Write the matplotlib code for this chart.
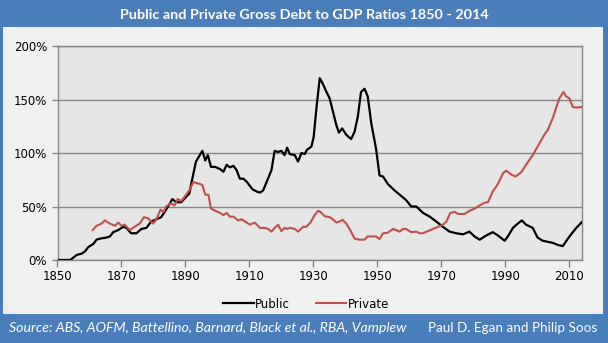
import matplotlib
matplotlib.use("Agg")
import matplotlib.pyplot as plt
from matplotlib.patches import Rectangle
from matplotlib.ticker import FuncFormatter, MultipleLocator

# Gross debt as % of GDP
pub_years = [1850, 1854, 1856, 1857.6, 1858.6, 1859.6, 1861.2, 1862.2, 1863.3, 1865.3,
             1866.4, 1867.4, 1869, 1870.5, 1871.6, 1873, 1874.7, 1876.2, 1877.8, 1879.3,
             1880.9, 1882.4, 1883.5, 1885, 1885.9, 1887.1, 1888.7, 1890.2, 1891.2, 1892.3,
             1893.3, 1894.2, 1895.3, 1896.2, 1897, 1898, 1899.3, 1900.8, 1901.9, 1902.9,
             1903.9, 1905, 1906, 1907, 1908.1, 1909.2, 1911, 1912.3, 1913.3, 1914.3,
             1915.4, 1916.9, 1917.9, 1919, 1920, 1921, 1921.8, 1922.6, 1924.2, 1925.2,
             1926.3, 1927.3, 1928, 1929.4, 1930.1, 1931, 1932, 1933, 1934.1, 1935.1,
             1936.1, 1937.2, 1938, 1939, 1940.3, 1941.8, 1942.9, 1943.9, 1944.9, 1946,
             1947, 1948.1, 1949.6, 1950.7, 1951.8, 1953.3, 1955.4, 1957, 1959, 1960.6,
             1962.2, 1964.3, 1966.4, 1968.4, 1970.5, 1972.6, 1974.7, 1976.8, 1978.8, 1980.4,
             1982, 1984.1, 1986.1, 1987.7, 1989.8, 1990.8, 1992.4, 1993.9, 1995.2, 1996.5,
             1998.6, 2000.1, 2001.7, 2003.3, 2004.9, 2006.5, 2008, 2009.6, 2010.6, 2012.2,
             2014]
pub_vals = [0, 0, 4.7, 6, 8, 12, 15, 19, 20, 21,
            22, 26, 28, 31, 30, 25, 25, 29, 30, 36,
            38, 40, 45, 52, 57, 54, 54, 59, 62, 78,
            92, 96.5, 102, 93, 98, 87, 87, 85, 82.5, 89,
            86.6, 88, 84, 76, 76, 73, 66, 64, 63, 65,
            73, 84, 102, 101, 102, 98, 105, 99, 98, 92,
            100, 99, 103, 106, 115, 143, 170, 164.5, 157, 151,
            139, 126, 119, 123, 117, 113, 120, 134, 157, 160,
            153, 128, 104, 79, 78, 71, 65, 61, 56, 50,
            50, 44, 40.5, 36, 31, 26.5, 25, 24, 26.5, 22,
            19, 23, 26, 23, 18, 22, 30, 34, 37, 33,
            30, 21, 18, 17, 16, 14, 13, 20, 24, 30,
            35.5]

priv_years = [1861, 1862.2, 1863.8, 1864.8, 1866.4, 1868, 1869, 1870, 1871, 1872.6,
              1874.1, 1875.7, 1877, 1878.3, 1879.9, 1880.9, 1882.2, 1883.2, 1884, 1885.5,
              1886.6, 1887.6, 1888.7, 1890.2, 1891.2, 1892.5, 1893.3, 1894.6, 1895.3, 1896.2,
              1897.2, 1898, 1899.3, 1900.8, 1901.9, 1902.9, 1903.9, 1905, 1906.5, 1907.6,
              1908.6, 1910.2, 1911.7, 1913.3, 1914.8, 1915.9, 1916.9, 1917.9, 1919, 1920,
              1921, 1921.8, 1922.6, 1924.2, 1925.2, 1926.8, 1927.8, 1929.1, 1930.4, 1931.5,
              1932.2, 1933.5, 1935.1, 1936.1, 1937.2, 1938.2, 1939.2, 1940.3, 1941.5, 1942.9,
              1944.4, 1946, 1947, 1948.6, 1949.6, 1950.7, 1951.8, 1953.3, 1954.9, 1955.9,
              1957, 1958, 1959, 1960.6, 1962.2, 1963.2, 1964.3, 1965.8, 1967.4, 1969,
              1970.5, 1971.6, 1972.8, 1974.2, 1975.2, 1977.3, 1978.8, 1980.4, 1982, 1983.5,
              1984.6, 1986.1, 1987.7, 1989.3, 1990.3, 1991.8, 1993.2, 1995, 1996.5, 1998.6,
              2000.7, 2002.2, 2003.3, 2004.9, 2006.9, 2008.2, 2009, 2010.1, 2011.1, 2012.2,
              2014]
priv_vals = [28, 32, 34, 37, 34, 32, 35, 32, 33, 28,
             31, 34, 40, 39, 34, 38, 47, 45, 50, 53,
             51, 57, 55, 61, 65, 73, 72, 71, 70, 61,
             61, 48, 46, 44, 42, 44, 40.5, 40.5, 37, 38,
             36, 33, 35, 30, 30, 29, 26.5, 30, 33, 27,
             30, 29, 30, 29, 26.5, 31, 31, 35, 42, 46,
             45, 41, 40, 38, 35, 36, 37.5, 34, 28, 20,
             19, 19, 22, 22, 22, 19.5, 25, 25.5, 29, 28,
             26.5, 29, 29, 26, 26.5, 25, 25, 27, 29, 31,
             33, 36, 44, 45, 43, 43, 46, 48, 51, 53.5,
             54, 64, 71, 81, 83.5, 80, 78, 82, 89, 98,
             109, 117, 121.5, 133, 151, 157, 153, 151, 143, 142.5,
             143]

x_ticks = [1850, 1870, 1890, 1910, 1930, 1950, 1970, 1990, 2010]

title = "Public and Private Gross Debt to GDP Ratios 1850 - 2014"
source = "Source: ABS, AOFM, Battellino, Barnard, Black et al., RBA, Vamplew"
authors = "Paul D. Egan and Philip Soos"

blue = "#4a7ebb"
W, H = 608, 343

fig = plt.figure(figsize=(W / 100, H / 100), dpi=100, facecolor=blue)

# light inner panel between the title band and the source band
panel = Rectangle((3 / W, (H - 314) / H), 600 / W, 287 / H,
                  transform=fig.transFigure, facecolor="#f0f0f0",
                  edgecolor="none", zorder=-5)
fig.add_artist(panel)

ax = fig.add_axes([57.5 / W, (H - 260) / H, (582 - 57.5) / W, 214 / H])
ax.set_facecolor("#e6e6e6")

ax.plot(pub_years, pub_vals, color="black", lw=1.6, label="Public",
        solid_joinstyle="round", zorder=3)
ax.plot(priv_years, priv_vals, color="#c0504d", lw=1.5, label="Private",
        solid_joinstyle="round", zorder=3)

ax.set_xlim(1850, 2014)
ax.set_ylim(0, 200)
ax.set_xticks(x_ticks)
ax.yaxis.set_major_locator(MultipleLocator(50))
ax.yaxis.set_major_formatter(FuncFormatter(lambda v, p: "%d%%" % v))
ax.grid(axis="y", color="#868686", lw=1)
ax.set_axisbelow(True)
for s in ax.spines.values():
    s.set_color("#868686")
    s.set_linewidth(1)
ax.tick_params(colors="#868686", length=4, width=1, labelcolor="black",
               labelsize=8.5)
ax.tick_params(axis="x", length=5, pad=2)

leg = fig.legend(loc="center", bbox_to_anchor=(306 / W, 1 - 304 / H), ncol=2,
                 frameon=False, fontsize=8.5, handlelength=2.6,
                 handletextpad=0.1, columnspacing=2.2)

fig.text(0.5, 1 - 15 / H, title, ha="center", va="center", color="white",
         fontsize=10.4, fontweight="bold", family="Lato")
fig.text(9 / W, 1 - 328 / H, source, ha="left", va="center", color="white",
         fontsize=10.2, style="italic", family="Lato")
fig.text(597 / W, 1 - 328 / H, authors, ha="right", va="center", color="white",
         fontsize=9.7, family="Lato")

fig.savefig("out.png", dpi=100, facecolor=blue)
